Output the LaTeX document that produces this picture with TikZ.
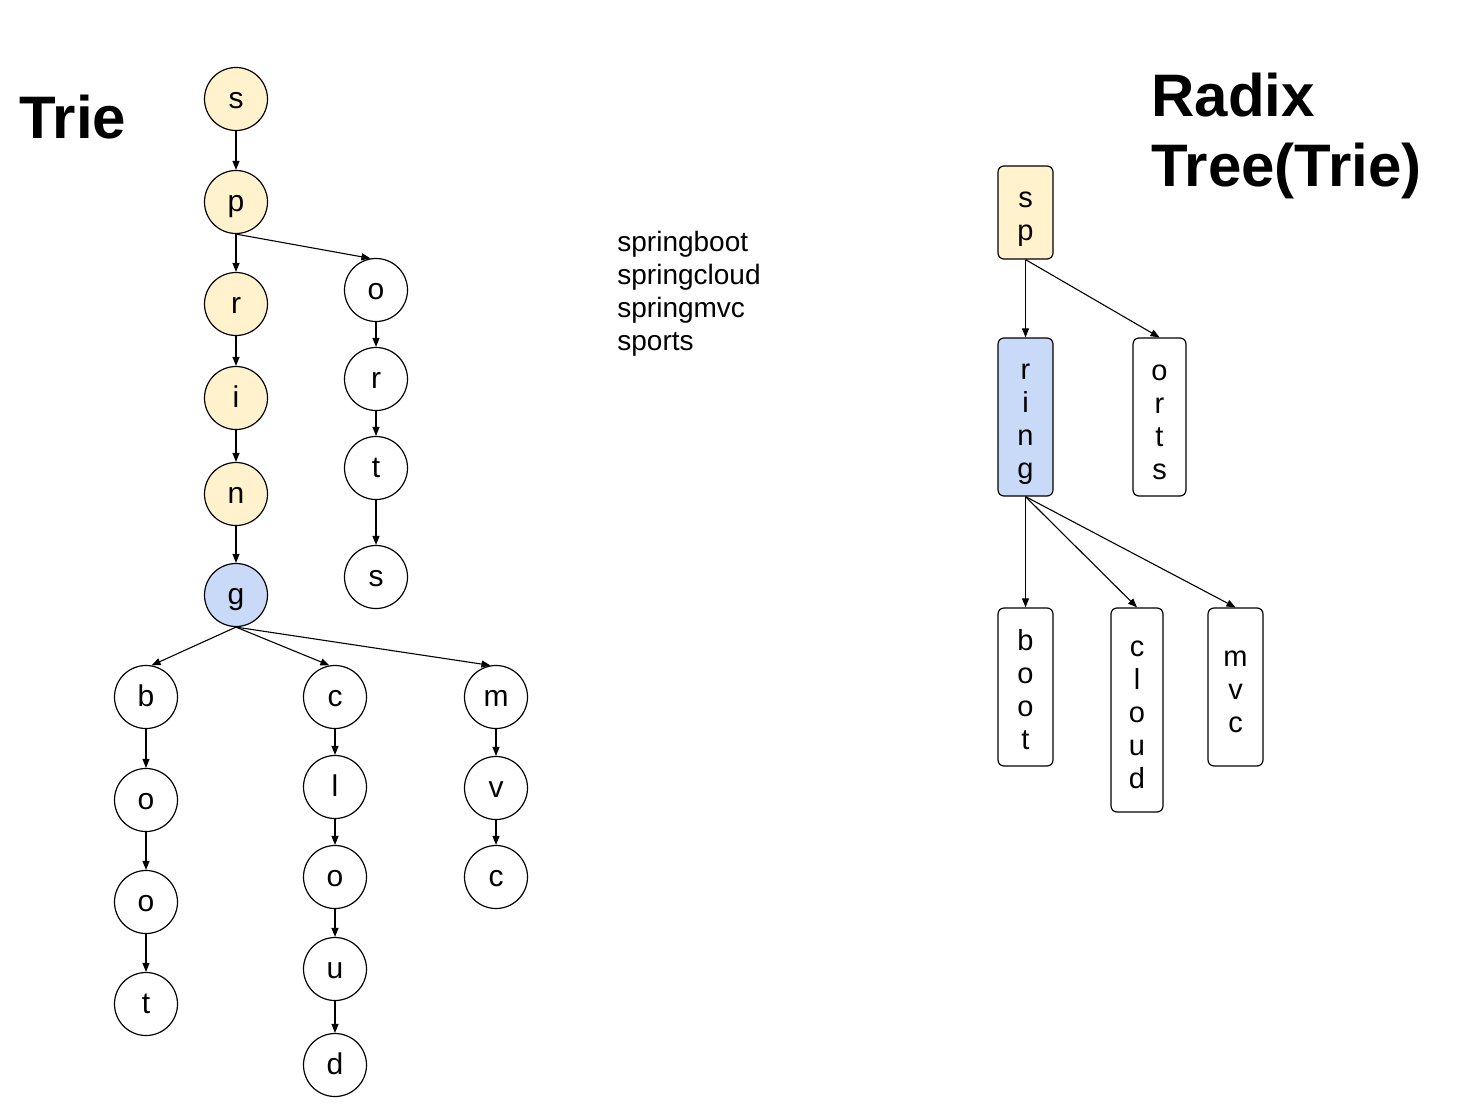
\documentclass[tikz,border=0pt]{standalone}
\usepackage{fontspec}
\setmainfont{Liberation Sans}
\usetikzlibrary{arrows.meta}
\definecolor{yel}{HTML}{FFF2CC}
\definecolor{blu}{HTML}{C9DAF8}
\newcommand\topstrut{\rule{0pt}{15pt}}
\newcommand\botstrut{\rule[-2.5pt]{0pt}{2.5pt}}
\tikzset{
  circ/.style={circle,draw=black,line width=0.6pt,minimum size=31.5pt,inner sep=0pt,text height=12pt,text depth=2.5pt,font=\fontsize{15}{18}\selectfont},
  rbox/.style={rectangle,rounded corners=3pt,draw=black,line width=0.6pt,minimum width=27.5pt,inner sep=0pt,align=center,font=\fontsize{14.5}{16.5}\selectfont},
  arr/.style={-{Triangle[length=4.5pt,width=3.5pt]},line width=0.55pt},
  title/.style={font=\fontsize{30}{35}\selectfont\bfseries,inner sep=0pt,anchor=base west},
  word/.style={font=\fontsize{14}{16.5}\selectfont,inner sep=0pt,anchor=base west}
}
\begin{document}
\begin{tikzpicture}[x=0.5pt,y=-0.5pt]
\useasboundingbox (0,0) rectangle (1460,1118);
% titles
\node[title] (t1) at (19,139) {Trie};
\node[title] (t2) at (1151,117) {Radix};
\node[title] (t3) at (1151,187) {Tree(Trie)};
% word list
\node[word] (w1) at (617,251) {springboot};
\node[word] (w2) at (617,284) {springcloud};
\node[word] (w3) at (617,317) {springmvc};
\node[word] (w4) at (617,350) {sports};
% trie
\node[circ,fill=yel] (s) at (236,99) {s};
\node[circ,fill=yel] (p) at (236,202) {p};
\node[circ,fill=yel] (r) at (236,304) {r};
\node[circ,fill=yel] (i) at (236,398) {i};
\node[circ,fill=yel] (n) at (236,494) {n};
\node[circ,fill=blu] (g) at (236,595) {g};
\node[circ] (o2) at (376,290) {o};
\node[circ] (r2) at (376,379) {r};
\node[circ] (t2n) at (376,468) {t};
\node[circ] (s2) at (376,577) {s};
\node[circ] (b) at (146,697) {b};
\node[circ] (bo1) at (146,800) {o};
\node[circ] (bo2) at (146,902) {o};
\node[circ] (bt) at (146,1004) {t};
\node[circ] (c) at (335,697) {c};
\node[circ] (cl) at (335,787) {l};
\node[circ] (co) at (335,877) {o};
\node[circ] (cu) at (335,969) {u};
\node[circ] (cd) at (335,1065) {d};
\node[circ] (m) at (496,697) {m};
\node[circ] (mv) at (496,788) {v};
\node[circ] (mc) at (496,877) {c};
\draw[arr] (s.south) -- (p.north);
\draw[arr] (p.south) -- (r.north);
\draw[arr] (r.south) -- (i.north);
\draw[arr] (i.south) -- (n.north);
\draw[arr] (n.south) -- (g.north);
\draw[arr] (p.south) -- (o2.100);
\draw[arr] (o2.south) -- (r2.north);
\draw[arr] (r2.south) -- (t2n.north);
\draw[arr] (t2n.south) -- (s2.north);
\draw[arr] (g.south) -- (b.80);
\draw[arr] (g.south) -- (c.100);
\draw[arr] (g.south) -- (m.100);
\draw[arr] (b.south) -- (bo1.north);
\draw[arr] (bo1.south) -- (bo2.north);
\draw[arr] (bo2.south) -- (bt.north);
\draw[arr] (c.south) -- (cl.north);
\draw[arr] (cl.south) -- (co.north);
\draw[arr] (co.south) -- (cu.north);
\draw[arr] (cu.south) -- (cd.north);
\draw[arr] (m.south) -- (mv.north);
\draw[arr] (mv.south) -- (mc.north);
% radix tree
\node[rbox,fill=yel,minimum height=46.5pt] (sp) at (1025.5,212.5) {\topstrut s\\p\botstrut};
\node[rbox,fill=blu,minimum height=79pt] (ring) at (1025.5,417) {\topstrut r\\i\\n\\g\botstrut};
\node[rbox,minimum height=79pt,minimum width=26.5pt] (orts) at (1159.5,417) {\topstrut o\\r\\t\\s\botstrut};
\node[rbox,minimum height=79pt] (boot) at (1025.5,687) {\topstrut b\\o\\o\\t\botstrut};
\node[rbox,minimum height=102pt,minimum width=26pt] (cloud) at (1137,710) {\topstrut c\\l\\o\\u\\d\botstrut};
\node[rbox,minimum height=79pt] (mvc) at (1235.5,687) {\topstrut m\\v\\c\botstrut};
\draw[arr] (sp.south) -- (ring.north);
\draw[arr] (sp.south) -- (orts.north);
\draw[arr] (ring.south) -- (boot.north);
\draw[arr] (ring.south) -- (cloud.north);
\draw[arr] (ring.south) -- (mvc.north);
\end{tikzpicture}
\end{document}
